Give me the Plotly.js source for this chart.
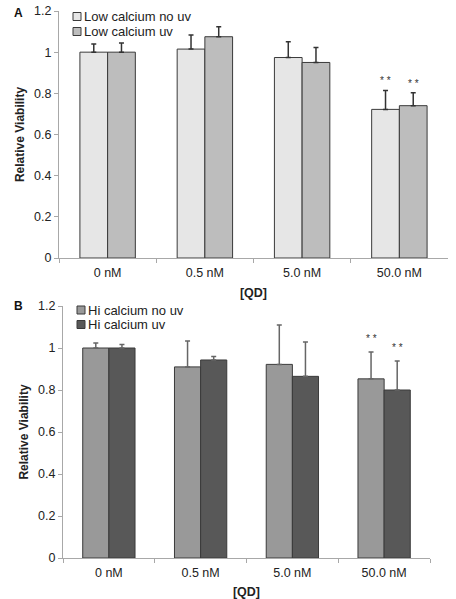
<!DOCTYPE html>
<html>
<head>
<meta charset="utf-8">
<script src="https://cdn.plot.ly/plotly-3.0.1.min.js"></script>
<style>html,body{margin:0;padding:0;background:#fff;}#chart{width:456px;height:599px;}</style>
</head>
<body>
<div id="chart"></div>
<script>
// ---- data ----
const categories = ['0 nM', '0.5 nM', '5.0 nM', '50.0 nM'];
const yTickVals = [0, 0.2, 0.4, 0.6, 0.8, 1, 1.2];
const yTickText = ['0', '0.2', '0.4', '0.6', '0.8', '1', '1.2'];

const lowNoUvName = 'Low calcium no uv';
const lowNoUv = [1.0, 1.015, 0.974, 0.722];
const lowNoUvErr = [0.04, 0.069, 0.076, 0.092];
const lowNoUvSig = ['', '', '', '* *'];

const lowUvName = 'Low calcium uv';
const lowUv = [1.0, 1.075, 0.95, 0.74];
const lowUvErr = [0.045, 0.048, 0.073, 0.063];
const lowUvSig = ['', '', '', '* *'];

const hiNoUvName = 'Hi calcium no uv';
const hiNoUv = [1.0, 0.91, 0.922, 0.853];
const hiNoUvErr = [0.024, 0.123, 0.187, 0.128];
const hiNoUvSig = ['', '', '', '* *'];

const hiUvName = 'Hi calcium uv';
const hiUv = [1.0, 0.943, 0.865, 0.80];
const hiUvErr = [0.017, 0.017, 0.163, 0.138];
const hiUvSig = ['', '', '', '* *'];

// ---- styling ----
const FONT = 'Liberation Sans, Arial, Helvetica, sans-serif';
const outline = '#3a3a3a';
const bargap = 0.43;
const barW = (1 - bargap) / 2;

const panels = [
  {xa: 'x', ya: 'y', starShift: 2, series: [
    {name: lowNoUvName, y: lowNoUv, err: lowNoUvErr, sig: lowNoUvSig, color: '#e6e6e6', errColor: '#333333'},
    {name: lowUvName, y: lowUv, err: lowUvErr, sig: lowUvSig, color: '#bdbdbd', errColor: '#333333'}
  ], legend: {x: 73, y: 16.5, dy: 15}},
  {xa: 'x2', ya: 'y2', starShift: 6, series: [
    {name: hiNoUvName, y: hiNoUv, err: hiNoUvErr, sig: hiNoUvSig, color: '#999999', errColor: '#666666'},
    {name: hiUvName, y: hiUv, err: hiUvErr, sig: hiUvSig, color: '#585858', errColor: '#666666'}
  ], legend: {x: 77, y: 310, dy: 14.5}}
];

const W = 456, H = 599;
const traces = [];
const annotations = [];
const shapes = [];

panels.forEach(p => {
  p.series.forEach((s, i) => {
    traces.push({
      type: 'bar', x: categories, y: s.y, name: s.name, xaxis: p.xa, yaxis: p.ya,
      showlegend: false,
      marker: {color: s.color, line: {color: outline, width: 1}},
      error_y: {type: 'data', symmetric: false, array: s.err, arrayminus: s.y.map(() => 0),
                color: s.errColor, thickness: 1.5, width: 2.5},
      hoverinfo: 'x+y'
    });
    const off = (i === 0 ? -1 : 1) * barW / 2;
    s.sig.forEach((t, k) => {
      if (!t) return;
      annotations.push({
        xref: p.xa, yref: p.ya, x: k + off, y: s.y[k] + s.err[k],
        text: t, showarrow: false, yanchor: 'bottom', yshift: p.starShift,
        font: {family: FONT, size: 10, color: '#333'}
      });
    });
    // custom legend
    const ly = p.legend.y + i * p.legend.dy;
    shapes.push({type: 'rect', xref: 'paper', yref: 'paper',
      x0: p.legend.x / W, x1: (p.legend.x + 8) / W,
      y0: 1 - (ly + 4) / H, y1: 1 - (ly - 4) / H,
      fillcolor: s.color, line: {color: outline, width: 1}});
    annotations.push({xref: 'paper', yref: 'paper', x: (p.legend.x + 9) / W, y: 1 - ly / H,
      xanchor: 'left', yanchor: 'middle', text: s.name, showarrow: false,
      font: {family: FONT, size: 13, color: '#222'}});
  });
});

// panel letters
annotations.push({xref: 'paper', yref: 'paper', x: 12 / W, y: 1 - 13 / H, xanchor: 'left', yanchor: 'middle',
  text: '<b>A</b>', showarrow: false, font: {family: FONT, size: 12, color: '#111'}});
annotations.push({xref: 'paper', yref: 'paper', x: 12 / W, y: 1 - 306 / H, xanchor: 'left', yanchor: 'middle',
  text: '<b>B</b>', showarrow: false, font: {family: FONT, size: 12, color: '#111'}});

const axisCommon = {
  showgrid: false, zeroline: false, showline: true, linecolor: '#a8a8a8', linewidth: 1,
  ticks: 'outside', ticklen: 4, tickcolor: '#a8a8a8',
  tickfont: {family: FONT, size: 12.5, color: '#222'}, fixedrange: true
};

const xaxisBase = Object.assign({}, axisCommon, {
  type: 'category', tickson: 'boundaries', ticklabelstandoff: 3,
  title: {text: '<b>[QD]</b>', font: {family: FONT, size: 12.5, color: '#222'}, standoff: 9}
});
const yaxisBase = Object.assign({}, axisCommon, {
  range: [0, 1.2], tickvals: yTickVals, ticktext: yTickText,
  title: {text: '<b>Relative Viability</b>', font: {family: FONT, size: 12, color: '#222'}, standoff: 6}
});

const layout = {
  width: W, height: H, margin: {l: 0, r: 0, t: 0, b: 0},
  paper_bgcolor: '#fff', plot_bgcolor: '#fff',
  barmode: 'group', bargap: bargap, bargroupgap: 0,
  showlegend: false,
  xaxis: Object.assign({}, xaxisBase, {domain: [59 / W, 448 / W], anchor: 'y'}),
  yaxis: Object.assign({}, yaxisBase, {domain: [1 - 258 / H, 1 - 11 / H], anchor: 'x'}),
  xaxis2: Object.assign({}, xaxisBase, {domain: [63 / W, 430 / W], anchor: 'y2'}),
  yaxis2: Object.assign({}, yaxisBase, {domain: [1 - 558 / H, 1 - 306 / H], anchor: 'x2'}),
  annotations: annotations, shapes: shapes
};

Plotly.newPlot('chart', traces, layout, {displayModeBar: false, staticPlot: true});
</script>
</body>
</html>
